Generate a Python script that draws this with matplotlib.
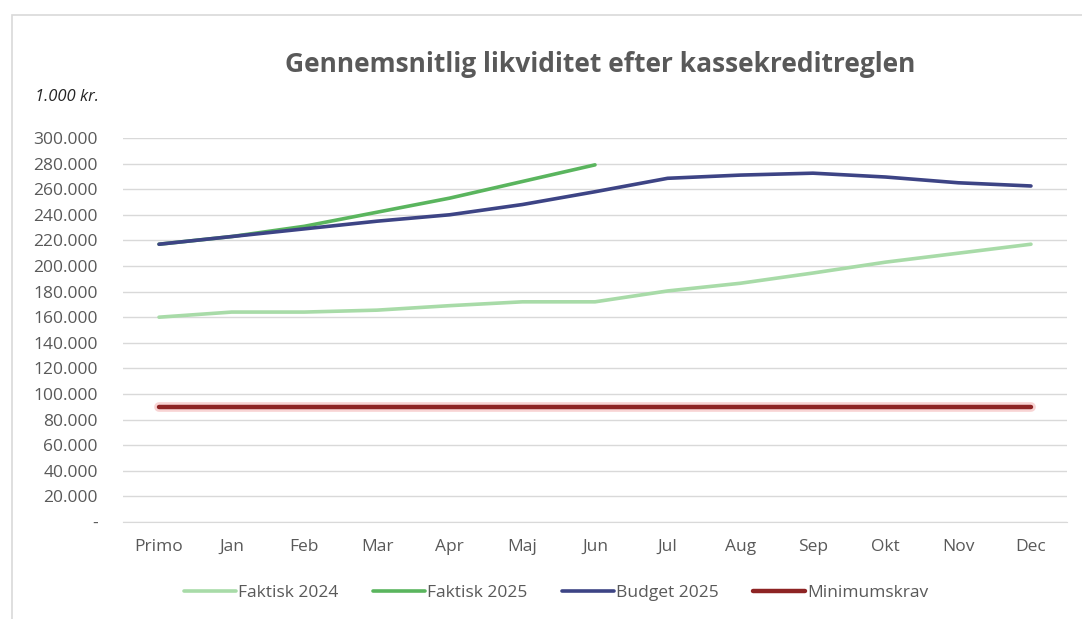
import matplotlib.pyplot as plt
from matplotlib.ticker import FuncFormatter
from matplotlib.patches import Rectangle

plt.rcParams['font.family'] = ['Open Sans', 'DejaVu Sans']

months = ["Primo", "Jan", "Feb", "Mar", "Apr", "Maj", "Jun",
          "Jul", "Aug", "Sep", "Okt", "Nov", "Dec"]

faktisk_2024 = [160, 164, 164, 165.5, 169, 172, 172, 180.5, 186.5, 194.5, 203, 210, 217]
faktisk_2025 = [217, 223, 231, 242, 253, 266, 279]
budget_2025 = [217, 223, 229, 235, 240, 248, 258, 268.5, 271, 272.5, 269.5, 265, 262.5]
minimumskrav = [90] * 13

fig = plt.figure(figsize=(10.82, 6.19), dpi=100)
ax = fig.add_axes([0.1134, 0.1567, 0.873, 0.6204])

# chart frame (light gray border, top/left visible)
fig.patches.append(Rectangle((0.011, -0.05), 1.1, 1.025, transform=fig.transFigure,
                             fill=False, edgecolor="#d9d9d9", linewidth=1.2))

x = list(range(len(months)))
v24 = [v * 1000 for v in faktisk_2024]
v25 = [v * 1000 for v in faktisk_2025]
vb = [v * 1000 for v in budget_2025]
vm = [v * 1000 for v in minimumskrav]

ax.plot(x, v24, color="#a8dba8", lw=2.6, label="Faktisk 2024", solid_capstyle="round")
ax.plot(x[:len(v25)], v25, color="#5ab55e", lw=2.6, label="Faktisk 2025", solid_capstyle="round")
ax.plot(x, vb, color="#3d4485", lw=2.6, label="Budget 2025", solid_capstyle="round")
ax.plot(x, vm, color="#f4b8b8", lw=7, alpha=0.6, solid_capstyle="round")
ax.plot(x, vm, color="#8e2424", lw=3.2, label="Minimumskrav", solid_capstyle="round")

ax.set_xlim(-0.5, 12.5)
ax.set_ylim(0, 300000)
ax.set_yticks(range(0, 300001, 20000))
ax.yaxis.set_major_formatter(FuncFormatter(
    lambda v, p: "-" if v == 0 else f"{int(v):,}".replace(",", ".")))
ax.set_xticks(x)
ax.set_xticklabels(months)

ax.grid(axis="y", color="#d9d9d9", lw=1)
ax.set_axisbelow(True)
for s in ["top", "right", "left"]:
    ax.spines[s].set_visible(False)
ax.spines["bottom"].set_color("#d9d9d9")
ax.tick_params(axis="both", length=0, colors="#595959", labelsize=12.5)
ax.tick_params(axis="y", pad=18)
ax.tick_params(axis="x", pad=12)

fig.text(0.555, 0.895, "Gennemsnitlig likviditet efter kassekreditreglen",
         ha="center", va="center", fontsize=19, fontweight="bold", color="#595959")
fig.text(0.032, 0.843, "1.000 kr.", ha="left", va="center", fontsize=12,
         style="italic", color="#262626")

ax.legend(loc="center", bbox_to_anchor=(0.459, -0.185), ncol=4, frameon=False,
          fontsize=12.5, labelcolor="#595959", handlelength=3.0, handletextpad=0.1,
          columnspacing=2.0)

fig.savefig("out.png", dpi=100, facecolor="white")
